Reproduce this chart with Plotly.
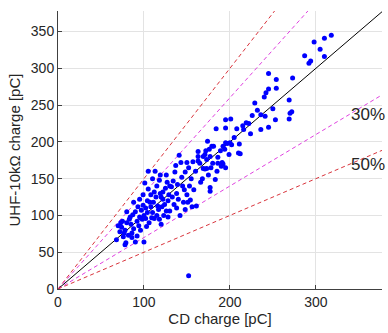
import plotly.graph_objects as go

cd_charge = [
    70,72,76,79,78,68,86,90,100,74,80,83,85,88,92,95,90,93,97,99,84,78,82,75,87,94,96,98,100,86,92,80,88,95,99,73,77,
    101,105,104,108,110,112,106,103,115,118,120,108,112,115,118,120,122,116,124,126,130,128,110,113,119,122,125,127,130,107,104,102,111,114,117,121,123,128,129,105,109,119,126,102,
    132,134,136,138,140,141,143,145,147,148,150,152,155,154,157,158,160,135,138,142,146,150,137,144,148,153,156,133,139,151,152,
    161,163,163,163,165,169,169,171,172,173,171,173,176,174,177,179,180,181,183,177,177,184,186,186,189,190,191,192,192,194,195,195,195,197,199,168,175,185,166,178,
    200,201,202,205,208,210,211,212,215,216,219,222,224,226,229,232,236,236,240,241,195,
    242,245,245,245,250,253,254,254,269,269,270,272,273,287,292,294,298,305,310,310,318,
]
uhf_charge = [
    86,78,71,63,60,67,76,64,64,84,90,95,88,82,92,98,105,112,107,114,98,80,73,92,101,86,80,95,100,70,72,105,118,122,128,90,76,
    144,136,120,112,104,96,90,85,100,95,88,128,132,140,148,125,122,113,115,106,106,98,150,160,155,132,137,145,140,118,104,96,118,125,108,112,100,120,128,160,97,130,155,110,
    139,147,159,130,122,182,172,140,135,159,172,165,150,121,173,135,160,115,110,100,118,128,168,152,108,140,112,125,142,118,18,
    113,187,174,180,171,180,164,183,188,164,163,176,190,201,180,194,171,194,149,138,133,218,179,171,188,167,172,170,194,190,199,165,219,198,183,150,155,160,145,165,
    199,231,196,206,218,185,197,184,222,217,226,225,211,236,253,243,237,217,261,235,230,
    267,272,220,293,245,230,273,285,257,231,239,241,287,317,307,310,336,326,341,316,345,
]

ref_slopes = [1.5, 1.3, 1.0, 0.7, 0.5]
ref_colors = ["#d9343c", "#e040e0", "#000000", "#e040e0", "#d9343c"]
ref_dash = ["4px,3px", "4px,3px", "solid", "4px,3px", "4px,3px"]
ref_labels = ["30%", "50%"]
ref_label_y = [237, 169]

x_max = 377
y_max = 378

fig = go.Figure()
for k, c, d in zip(ref_slopes, ref_colors, ref_dash):
    fig.add_trace(go.Scatter(x=[0, x_max * 1.05], y=[0, k * x_max * 1.05], mode="lines",
                             line=dict(color=c, width=1, dash=d), showlegend=False, hoverinfo="skip"))

fig.add_trace(go.Scatter(x=cd_charge, y=uhf_charge, mode="markers",
                         marker=dict(color="#0000ff", size=5), showlegend=False))

for lab, yy in zip(ref_labels, ref_label_y):
    fig.add_annotation(xref="paper", x=1.0, xshift=5, y=yy, text=lab, showarrow=False,
                       xanchor="right", yanchor="middle",
                       font=dict(size=17, color="#262626"))

axis_common = dict(showgrid=True, gridcolor="#e3e3e3", gridwidth=1, zeroline=False,
                   showline=True, linecolor="#404040", linewidth=1,
                   ticks="inside", ticklen=4, tickcolor="#404040", automargin=False,
                   tickfont=dict(size=14, color="#262626"))

fig.update_xaxes(range=[0, x_max], tickvals=[0, 100, 200, 300],
                 title=dict(text="CD charge [pC]", font=dict(size=15, color="#262626"), standoff=4), **axis_common)
fig.update_yaxes(range=[0, y_max], tickvals=[0, 50, 100, 150, 200, 250, 300, 350],
                 title=dict(text="UHF-10kΩ charge [pC]", font=dict(size=15, color="#262626"), standoff=6), **axis_common)

fig.update_layout(width=388, height=333, margin=dict(l=58, r=6, t=11, b=44),
                  plot_bgcolor="white", paper_bgcolor="white",
                  font=dict(family="Liberation Sans, Arial, sans-serif"))

fig.write_html("out.html", config={"displayModeBar": False},
               post_script="document.body.style.margin='0';document.body.style.overflow='hidden';")
